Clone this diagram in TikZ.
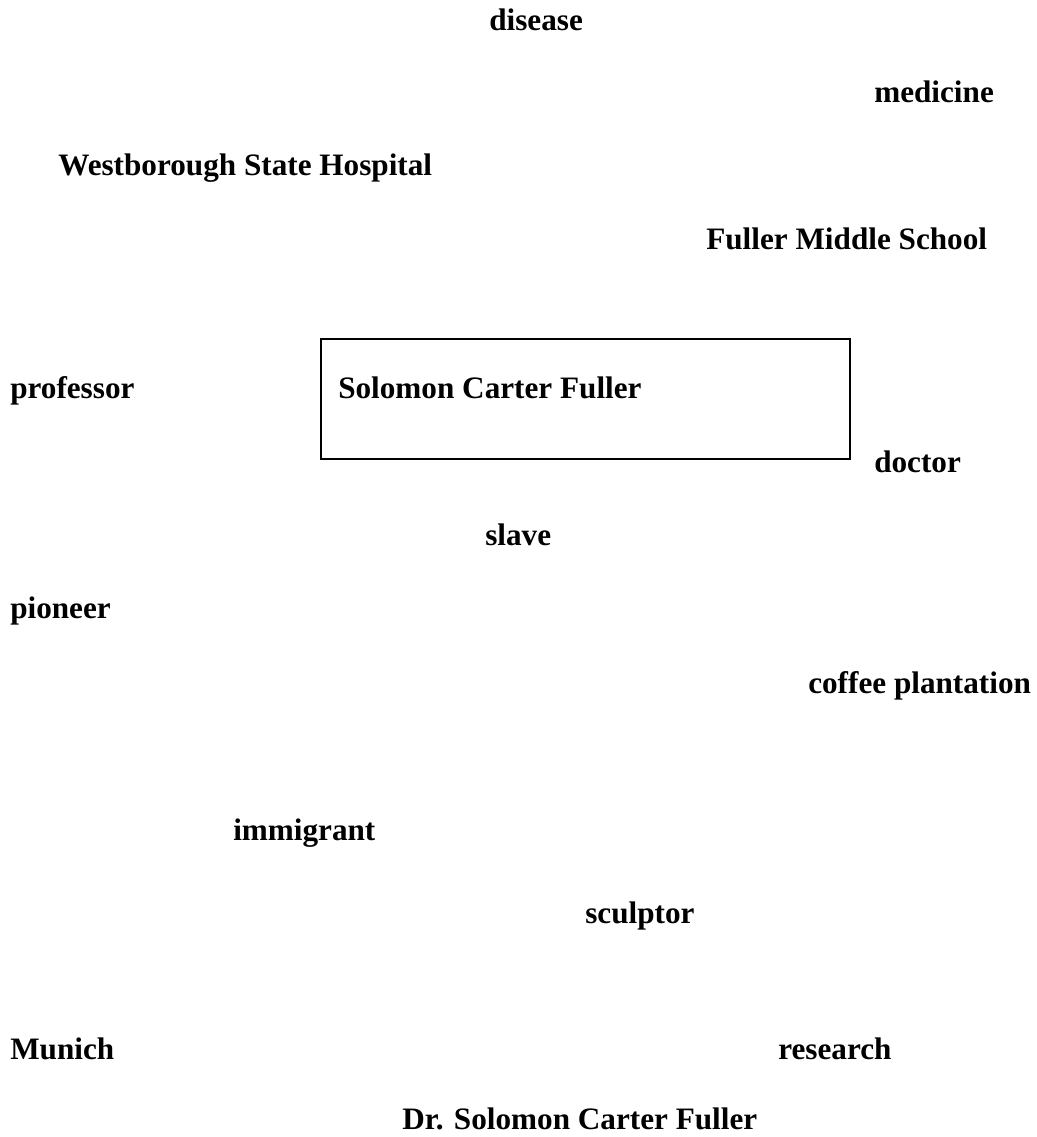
\documentclass[tikz,border=0pt]{standalone}
\usepackage{fontspec}
\setmainfont{Liberation Serif}
\usepackage{tikz}
\usetikzlibrary{positioning}
\tikzstyle{concept} = [anchor=base west, inner sep=0pt, font=\bfseries\fontsize{23.4}{28}\selectfont]
\tikzstyle{mainbox} = [draw, line width=1.2pt, rectangle, anchor=north west, inner sep=0pt, minimum width=396.75pt, minimum height=90pt]

\begin{document}
\begin{tikzpicture}[x=0.75pt, y=-0.75pt]
	\useasboundingbox (0,0) rectangle (1037,1137);
	\node [mainbox] (box) at (320,338) {};
	\node [concept] (title) at (338,398) {Solomon Carter Fuller};
	\node [concept] (disease) at (489,31) {disease};
	\node [concept] (medicine) at (874,103) {medicine};
	\node [concept] (hospital) at (58,176) {Westborough State Hospital};
	\node [concept] (school) at (706,250) {Fuller Middle School};
	\node [concept] (professor) at (10,398) {professor};
	\node [concept] (doctor) at (874,472) {doctor};
	\node [concept] (slave) at (485,545) {slave};
	\node [concept] (pioneer) at (10,618) {pioneer};
	\node [concept] (coffee) at (808,693) {coffee plantation};
	\node [concept] (immigrant) at (233,840) {immigrant};
	\node [concept] (sculptor) at (585,923) {sculptor};
	\node [concept] (munich) at (10,1059) {Munich};
	\node [concept] (research) at (778,1059) {research};
	\node [concept] (drfuller) at (402,1129) {Dr. Solomon Carter Fuller};
\end{tikzpicture}
\end{document}
